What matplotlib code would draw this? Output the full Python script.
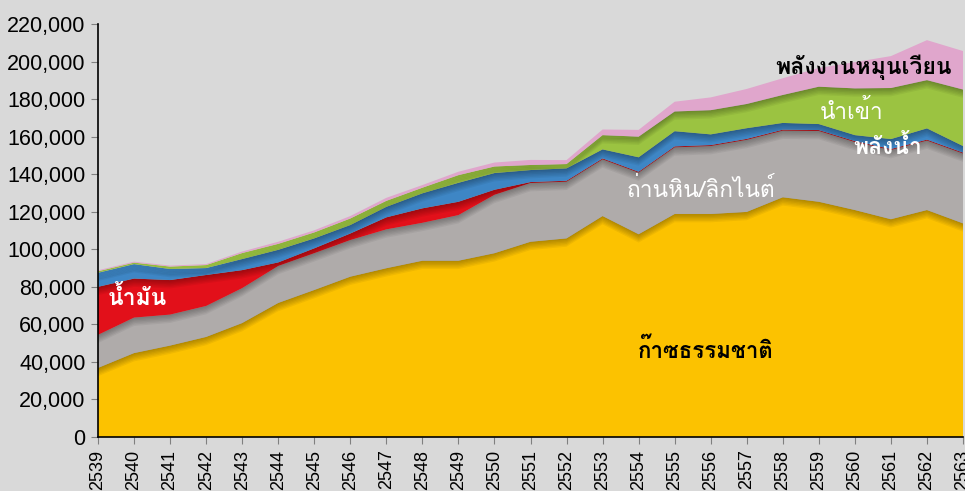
import matplotlib
matplotlib.use("Agg")
import matplotlib.pyplot as plt
import matplotlib.patheffects as pe
from matplotlib.ticker import FuncFormatter

# ---------------- data ----------------
years = list(range(2539, 2564))
gas = [36800, 44700, 48700, 53300, 60700, 71400, 78300, 85400, 89900, 93900,
       93900, 97900, 104000, 105800, 117700, 108000, 118800, 118800, 119900,
       127700, 125300, 120900, 116000, 120900, 113800]
coal = [17600, 18900, 16500, 16500, 18600, 19700, 19600, 19500, 20700, 20200,
        24300, 31100, 31300, 30200, 30200, 32800, 35500, 36200, 38400, 35500,
        37700, 36200, 36900, 37000, 37200]
oil = [25600, 20800, 18400, 16500, 9600, 1900, 2600, 3500, 6400, 7700, 7100,
       2700, 500, 500, 500, 500, 500, 500, 500, 500, 500, 500, 500, 500, 500]
hydro = [7500, 7700, 5900, 3700, 5900, 6700, 5300, 4500, 5600, 8000, 10100,
         8900, 6400, 6600, 4800, 7700, 8100, 5700, 5700, 3600, 3200, 3200,
         5300, 6000, 3500]
imports = [800, 800, 1300, 1600, 3200, 3200, 3200, 3500, 3200, 3000, 4100,
           3500, 2700, 2300, 7600, 11000, 10500, 12900, 12900, 14900, 19900,
           24900, 27200, 25700, 30100]
renew = [500, 500, 500, 500, 800, 1100, 1100, 1300, 1600, 1400, 1800, 2100,
         2700, 2100, 3000, 3600, 5200, 6800, 8000, 8900, 10000, 14000, 17000,
         21300, 20500]

labels = ["ก๊าซธรรมชาติ", "ถ่านหิน/ลิกไนต์", "น้ำมัน", "พลังน้ำ", "นำเข้า", "พลังงานหมุนเวียน"]
yticks = list(range(0, 220001, 20000))

# ---------------- fonts ----------------
thai_family = ["Loma", "Liberation Sans", "DejaVu Sans"]
plt.rcParams['font.family'] = ["Liberation Sans", "DejaVu Sans"]

# ---------------- figure ----------------
bg = "#d9d9d9"
fig = plt.figure(figsize=(9.65, 4.91), dpi=100, facecolor=bg)
ax = fig.add_axes([98 / 965, 54 / 491, 865 / 965, 413 / 491])
ax.set_facecolor(bg)

colors = ["#fcc200", "#afabaa", "#e2101a", "#3e86c5", "#9bc341", "#e0a6cc"]
polys = ax.stackplot(years, gas, coal, oil, hydro, imports, renew,
                     colors=colors, linewidth=0)
shadow = [pe.SimplePatchShadow(offset=(0, -k), shadow_rgbFace="black", alpha=0.05)
          for k in (1, 2, 3, 4, 5, 6)]
for p in polys[1:]:
    p.set_path_effects(shadow + [pe.Normal()])

ax.set_xlim(2539, 2563)
ax.set_ylim(0, 220000)
ax.set_xticks(years)
ax.set_xticklabels([str(y) for y in years], rotation=90, fontsize=13, va="top")
ax.set_yticks(yticks)
ax.yaxis.set_major_formatter(FuncFormatter(lambda v, p: f"{int(v):,}"))
ax.tick_params(axis="y", labelsize=15.5, length=5, color="#808080", pad=4)
ax.tick_params(axis="x", length=5, color="#808080", pad=4)
for s in ("top", "right"):
    ax.spines[s].set_visible(False)
for s in ("left", "bottom"):
    ax.spines[s].set_color("black")
    ax.spines[s].set_linewidth(1.2)

# ---------------- annotations ----------------
kw = dict(ha="center", va="center", family=thai_family)
ax.text(2540.1, 74600, labels[2], color="white", fontsize=16.5, fontweight="bold", **kw)
ax.text(2555.73, 131600, labels[1], color="white", fontsize=16.4, fontweight="normal", **kw)
ax.text(2555.85, 46300, labels[0], color="black", fontsize=16, fontweight="bold", **kw)
ax.text(2560.25, 197100, labels[5], color="black", fontsize=16.6, fontweight="bold", **kw)
ax.text(2559.9, 173100, labels[4], color="white", fontsize=16.2, fontweight="normal", **kw)
ax.text(2560.9, 155000, labels[3], color="white", fontsize=16.5, fontweight="bold", **kw)

fig.savefig("out.png", dpi=100, facecolor=bg)
